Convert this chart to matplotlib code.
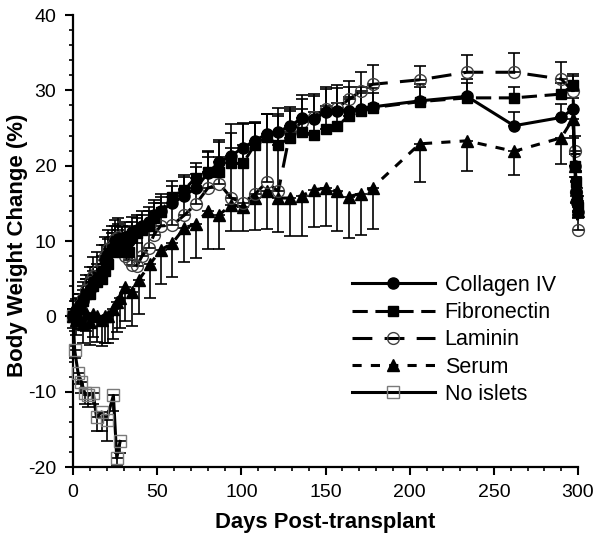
import matplotlib
matplotlib.use('Agg')
import matplotlib.pyplot as plt
from matplotlib.ticker import MultipleLocator
import numpy as np

plt.rcParams['font.family'] = ['Liberation Sans', 'DejaVu Sans']
plt.rcParams['axes.unicode_minus'] = False

# ---------------- data ----------------
collagen_days = [0, 2, 4, 6, 8, 10, 12, 14, 17, 19, 21, 23, 25, 27, 29, 31, 33, 35, 38, 41,
                 45, 48, 52, 59, 66, 73, 80, 87, 94, 101, 108, 115, 122, 129, 136, 143, 150, 157, 164, 171,
                 178, 206, 234, 262, 290, 297, 298, 299, 299.5, 300]
collagen_vals = [0, 0.8, 1.5, 2.0, 3.0, 3.5, 4.5, 5.0, 6.0, 7.5, 8.3, 9.0, 10.0, 10.2, 9.8, 10.5, 10.0, 11.2, 11.5, 12.0,
                 12.5, 13.5, 14.0, 15.0, 16.0, 17.0, 19.0, 20.5, 21.3, 22.4, 23.3, 24.2, 24.5, 25.3, 26.3, 26.2, 27.1, 27.3, 27.3, 27.5,
                 27.8, 28.6, 29.2, 25.3, 26.4, 27.5, 20.0, 16.5, 15.0, 13.8]
collagen_err = [1, 1.5, 1.5, 2, 2, 2, 2, 2, 2, 2, 2, 2, 2, 2, 2, 2, 2, 2, 2, 2,
                2, 2, 2.3, 2.3, 2.5, 2.8, 2.8, 2.9, 3, 3.2, 2.4, 2.7, 3.2, 2.5, 3.1, 3.1, 3.1, 3, 3.2, 3,
                2.5, 2.3, 2.3, 1.8, 1.8, 1.5, 1.5, 1.5, 1.5, 1.5]

fibronectin_days = [0, 2, 4, 6, 8, 10, 12, 14, 17, 19, 21, 23, 25, 27, 29, 31, 33, 35, 38, 41,
                    45, 48, 52, 59, 66, 73, 80, 87, 94, 101, 108, 115, 122, 129, 136, 143, 150, 157, 164, 171,
                    178, 206, 234, 262, 290, 297, 298, 299, 299.5, 300]
fibronectin_vals = [0, -0.5, 1.0, 2.0, 3.0, 3.0, 4.0, 4.5, 5.0, 6.0, 7.0, 8.5, 9.0, 9.5, 8.5, 9.0, 8.5, 10.5, 11.0, 11.5,
                    12.0, 13.0, 13.9, 15.9, 16.8, 18.4, 19.1, 19.1, 20.3, 20.3, 22.8, 23.8, 22.8, 23.7, 24.5, 24.1, 24.9, 25.3, 26.6, 27.2,
                    27.7, 28.5, 29.0, 29.0, 29.5, 30.7, 20.0, 17.8, 15.5, 14.5]
fibronectin_err = [1, 1.5, 1.5, 1.5, 2, 2, 2, 2, 2, 2, 2, 2, 2, 2, 2, 2, 2, 2, 2, 2,
                   2, 2, 2, 2, 2, 2, 2, 2, 2, 2.5, 3, 3, 4, 3.5, 3, 3, 3, 3, 2.5, 2.5,
                   2, 2, 2, 1.5, 1.5, 1.5, 1.5, 1.5, 1.5, 1.5]

laminin_days = [0, 2, 4, 6, 8, 10, 12, 14, 17, 19, 21, 23, 25, 27, 29, 31, 33, 35, 38, 41,
                45, 48, 52, 59, 66, 73, 80, 87, 94, 101, 108, 115, 122, 129, 136, 143, 150, 157, 164, 171,
                178, 206, 234, 262, 290, 297, 298, 299, 300]
laminin_vals = [0, 0.5, 1.5, 2.5, 3.5, 4.5, 5.4, 6.0, 7.0, 8.0, 9.0, 9.5, 10.3, 10.5, 9.5, 8.0, 7.5, 6.8, 6.7, 8.0,
                9.1, 10.8, 12.0, 12.1, 13.4, 14.9, 17.0, 17.6, 15.7, 15.1, 16.2, 17.8, 16.6, 24.5, 25.8, 26.5, 27.5, 27.7, 28.8, 29.9,
                30.8, 31.4, 32.4, 32.4, 31.5, 29.9, 22.0, 16.5, 11.5]
laminin_err = [1, 1.5, 1.5, 2, 2, 2, 2.5, 2.5, 2.5, 2.5, 2.5, 2.5, 2.5, 2.5, 2.5, 3, 3, 3, 3, 3,
               3, 3, 3, 3, 3.5, 4, 5, 5.5, 9.8, 10.4, 9.5, 9, 10, 3, 3, 3, 3, 3, 2.5, 2.5,
               2.5, 1.8, 2.3, 2.5, 2.3, 2, 2, 2, 2]

serum_days = [0, 2, 4, 6, 8, 10, 12, 14, 17, 19, 21, 24, 26, 28, 31, 35, 39, 46, 52, 59,
              66, 73, 80, 87, 94, 101, 108, 115, 122, 129, 136, 143, 150, 157, 164, 171, 178, 206, 234, 262,
              290, 297, 298, 299, 300]
serum_vals = [0, -0.5, 0.3, -1.0, 0.5, -0.8, 0.3, 0.1, -0.5, 0.0, 0.1, 1.0, 1.9, 2.5, 3.9, 3.2, 4.8, 7.0, 8.8, 9.7,
              11.7, 12.3, 14.0, 13.5, 14.8, 14.5, 15.7, 16.6, 15.7, 15.7, 16.0, 16.8, 17.0, 16.6, 15.9, 16.3, 17.1, 22.9, 23.3, 21.9,
              23.7, 26.2, 20.0, 16.0, 14.0]
serum_err = [1.5, 2, 2, 2.5, 2.5, 3, 3, 3.5, 3.5, 3.5, 3.7, 4, 4, 4, 4.5, 4.5, 4.5, 4.5, 4.5, 4.5,
             4.5, 4.5, 5, 4.5, 3.5, 3.2, 4.2, 5, 4.5, 5, 5.3, 5, 5, 5.3, 5.5, 5.5, 5.5, 5.1, 4, 3.2,
             3.5, 2.5, 1.5, 1, 1]

noislets_days = [0, 1, 3, 5, 7, 9, 12, 14, 17, 20, 24, 26, 28]
noislets_vals = [0, -4.5, -7.5, -8.7, -10.2, -10.5, -10.2, -13.4, -12.7, -13.7, -10.5, -18.8, -16.6]
noislets_err = [0.5, 1, 1.5, 1.5, 1.5, 1.5, 1.5, 1.8, 2.5, 2.8, 2, 1, 1.5]

x_ticks = [0, 50, 100, 150, 200, 250, 300]
y_ticks = [-20, -10, 0, 10, 20, 30, 40]

# ---------------- plot ----------------
fig = plt.figure(figsize=(5.98, 5.35), dpi=100)
ax = fig.add_axes([73 / 598, 68 / 535, 505 / 598, 452 / 535])

LW = 2.2
eb_kw = dict(fmt='none', ecolor='black', elinewidth=1.2, capsize=4, capthick=1.2, clip_on=False)

def zeros(n):
    return np.zeros(len(n))

# No islets
ax.errorbar(noislets_days, noislets_vals, yerr=[noislets_err, zeros(noislets_err)], zorder=2, **eb_kw)
ax.plot(noislets_days, noislets_vals, '-', color='black', lw=LW, marker='s', ms=8.5,
        mfc='none', mec='#7a7a7a', mew=1.0, label='No islets', zorder=3, clip_on=False)
# Serum
ax.errorbar(serum_days, serum_vals, yerr=[serum_err, zeros(serum_err)], zorder=2, **eb_kw)
ax.plot(serum_days, serum_vals, color='black', lw=LW, ls=(0, (3, 3)), marker='^', ms=8.5,
        mfc='black', mec='black', label='Serum', zorder=4, clip_on=False)
# Laminin
ax.errorbar(laminin_days, laminin_vals, yerr=[zeros(laminin_err), laminin_err], zorder=2, **eb_kw)
ax.plot(laminin_days, laminin_vals, color='black', lw=LW, ls=(0, (6.5, 4)), marker='o', ms=8.5,
        mfc='none', mec='#404040', mew=1.0, label='Laminin', zorder=5, clip_on=False)
# Fibronectin
ax.errorbar(fibronectin_days, fibronectin_vals, yerr=[zeros(fibronectin_err), fibronectin_err], zorder=2, **eb_kw)
ax.plot(fibronectin_days, fibronectin_vals, color='black', lw=LW, ls=(0, (5, 2.5)), marker='s', ms=7.5,
        mfc='black', mec='black', label='Fibronectin', zorder=6, clip_on=False)
# Collagen IV
ax.errorbar(collagen_days, collagen_vals, yerr=[zeros(collagen_err), collagen_err], zorder=2, **eb_kw)
ax.plot(collagen_days, collagen_vals, '-', color='black', lw=LW, marker='o', ms=8,
        mfc='black', mec='black', label='Collagen IV', zorder=7, clip_on=False)

ax.set_xlim(0, 300)
ax.set_ylim(-20, 40)
ax.set_xticks(x_ticks)
ax.set_yticks(y_ticks)
ax.xaxis.set_minor_locator(MultipleLocator(10))
ax.yaxis.set_minor_locator(MultipleLocator(2))
ax.tick_params(which='major', direction='out', length=5.5, width=1.5, labelsize=14, colors='black', pad=6.5)
ax.tick_params(axis='x', which='major', pad=7)
ax.tick_params(which='minor', direction='out', length=3, width=1.2)
for s in ['top', 'right']:
    ax.spines[s].set_visible(False)
for s in ['left', 'bottom']:
    ax.spines[s].set_linewidth(1.6)

ax.set_xlabel('Days Post-transplant', fontsize=15.8, fontweight='bold', labelpad=8)
ax.set_ylabel('Body Weight Change (%)', fontsize=16, fontweight='bold')
ax.yaxis.set_label_coords(-0.09, 0.49)

handles, labels = ax.get_legend_handles_labels()
order = ['Collagen IV', 'Fibronectin', 'Laminin', 'Serum', 'No islets']
hmap = dict(zip(labels, handles))
leg = ax.legend([hmap[k] for k in order], order, loc='upper left',
                bbox_to_anchor=(352 / 598, 1 - 275 / 535), bbox_transform=fig.transFigure,
                frameon=False, fontsize=15.5, handlelength=3.85, handletextpad=0.45,
                labelspacing=0.29, borderpad=0, borderaxespad=0)

fig.savefig('out.png', dpi=100)
